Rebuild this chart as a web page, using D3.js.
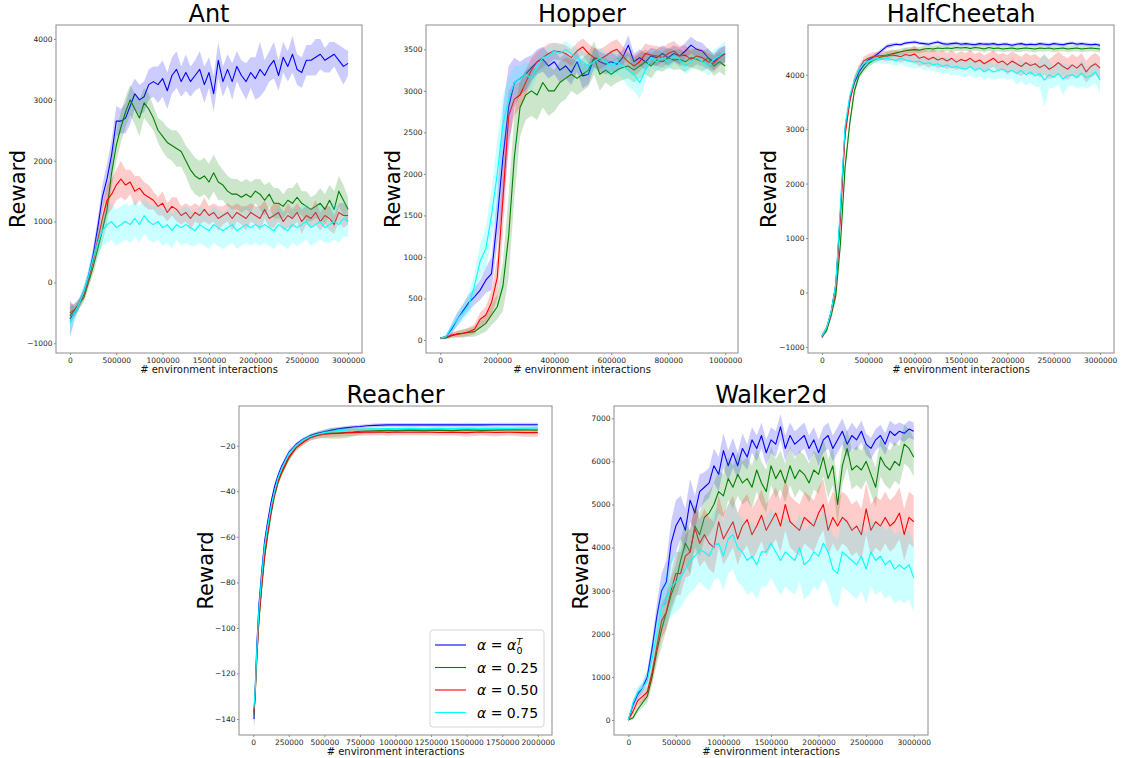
<!DOCTYPE html>
<html>
<head>
<meta charset="utf-8">
<script src="https://cdn.jsdelivr.net/npm/d3@7"></script>
<style>
  body { margin: 0; background: #fff; }
  text { font-family: "DejaVu Sans", sans-serif; }
</style>
</head>
<body>
<script>
const width = 1126, height = 758;
const colors = ["#0000ff", "#008000", "#ff0000", "#00ffff"];

// ---- Ant (x step 50000, 0..3000000)
const antStep = 50000;
const antBlue = [-600,-500,-350,-150,100,450,900,1400,1700,2100, 2650,2650,2700,2900,3100,3000,3050,3250,3300,3250, 3350,3150,3400,3500,3300,3450,3300,3400,3500,3250, 3450,3100,3650,3300,3500,3300,3550,3400,3300,3450, 3350,3500,3400,3550,3650,3400,3700,3550,3750,3500, 3450,3650,3650,3700,3750,3650,3700,3750,3650,3550, 3600];
const antGreen = [-550,-450,-350,-250,0,250,550,850,1200,1800, 2250,2550,2800,3000,2850,2700,2950,2850,2700,2500, 2400,2300,2250,2200,2150,2000,1850,1750,1700,1750, 1650,1800,1650,1600,1500,1450,1450,1400,1450,1400, 1500,1450,1350,1450,1300,1300,1250,1350,1300,1400, 1300,1250,1200,1250,1300,1200,1350,1200,1500,1350, 1200];
const antRed = [-500,-450,-350,-200,50,350,700,1050,1350,1450, 1600,1700,1600,1650,1500,1550,1450,1400,1350,1250, 1300,1150,1250,1200,1100,1150,1050,1150,1100,1200, 1100,1150,1050,1100,1150,1050,1150,1100,1050,1150, 1100,1050,1200,1050,1100,1150,1000,1100,1050,1150, 1000,1100,1050,1150,1000,1100,1050,950,1150,1100, 1100];
const antCyan = [-650,-500,-350,-150,100,400,650,850,950,1000, 900,950,1000,950,1050,950,1100,1000,950,1000, 900,950,850,950,900,950,900,850,950,900, 850,950,900,850,900,950,850,900,950,900, 950,900,950,900,850,950,900,850,950,900, 950,1000,900,950,1000,900,950,1000,950,1050, 1000];
const antBlueBand = [300,100,80,80,100,120,150,200,250,250, 250,200,250,300,250,250,250,250,250,300, 300,300,300,300,250,300,250,250,300,300, 250,300,300,250,250,300,250,250,300,250, 350,450,250,250,300,250,250,250,300,250, 250,250,250,300,250,200,250,200,250,300, 200];
const antGreenBand = [150,100,80,80,100,120,150,200,250,250, 250,250,250,250,250,300,250,250,200,200, 250,250,250,300,250,250,300,300,300,300, 300,300,300,250,250,250,250,250,250,250, 200,250,250,200,250,250,200,200,250,250, 200,250,200,200,250,250,250,300,250,250, 200];
const antRedBand = [150,100,80,80,100,120,150,200,250,250, 250,300,250,200,250,200,200,200,150,150, 200,150,150,200,150,150,200,150,150,200, 150,150,200,150,150,200,150,150,200,150, 150,200,150,150,200,150,150,200,150,150, 200,150,150,200,150,150,200,150,150,200, 150];
const antCyanBand = [250,150,100,100,120,150,200,250,300,300, 300,300,300,300,300,300,300,300,300,300, 300,300,300,250,300,300,300,250,300,300, 300,300,300,300,300,300,300,300,300,300, 300,300,300,300,300,300,300,300,300,300, 300,300,300,300,300,250,300,300,300,300, 250];

// ---- Hopper (x step 20000, 0..1000000)
const hopStep = 20000;
const hopBlue = [20,40,130,250,350,450,520,600,720,800, 1450,2200,2800,3100,3150,3200,3280,3350,3380,3300, 3350,3250,3300,3220,3350,3180,3200,3400,3350,3320, 3350,3320,3400,3550,3350,3400,3350,3420,3400,3450, 3400,3450,3420,3480,3550,3500,3480,3400,3350,3420, 3440];
const hopGreen = [20,25,50,70,80,90,100,150,200,300, 400,650,1250,2200,2800,2950,3000,2950,3100,3000, 3000,3100,3150,3200,3150,3200,3250,3400,3200,3250, 3200,3250,3280,3300,3250,3300,3350,3300,3370,3350, 3400,3370,3380,3350,3400,3380,3350,3400,3300,3350, 3300];
const hopRed = [20,30,60,70,80,100,130,250,300,450, 750,1700,2700,2900,2950,3100,3250,3350,3400,3450, 3480,3470,3450,3400,3480,3530,3450,3400,3380,3420, 3470,3500,3420,3350,3300,3350,3450,3430,3420,3400, 3450,3480,3420,3430,3380,3420,3400,3350,3330,3400, 3450];
const hopCyan = [20,40,150,250,330,420,650,950,1100,1500, 2000,2600,2900,3100,3150,3200,3150,3300,3400,3420, 3480,3450,3500,3450,3400,3350,3300,3350,3400,3350, 3300,3350,3300,3250,3200,3100,3250,3400,3350,3400, 3350,3420,3380,3300,3350,3400,3350,3300,3380,3420, 3480];
const hopBlueBand = [10,20,60,80,80,100,100,120,150,200, 300,600,500,300,200,200,150,150,150,150, 150,150,150,150,120,150,120,120,120,120, 120,100,100,120,100,100,100,100,100,100, 100,100,100,100,100,100,100,100,100,100, 100];
const hopGreenBand = [10,15,30,40,50,50,60,80,100,120, 150,300,500,500,350,300,300,300,300,300, 250,250,250,200,200,200,200,200,200,150, 150,150,150,150,150,150,150,150,120,120, 120,120,120,120,120,120,120,120,120,120, 120];
const hopRedBand = [10,15,30,40,40,50,60,80,100,150, 250,400,300,200,150,150,150,120,120,120, 100,100,100,100,100,100,120,120,120,120, 120,120,120,120,120,120,120,120,120,120, 120,120,120,120,100,100,100,100,100,100, 100];
const hopCyanBand = [10,20,60,80,100,120,150,200,250,300, 400,350,250,200,150,150,150,120,120,120, 100,100,100,100,120,120,120,120,120,120, 150,150,150,200,200,200,150,120,120,120, 100,100,100,100,100,100,100,120,120,120, 120];

// ---- HalfCheetah (x step 50000, 0..3000000)
const hcStep = 50000;
const hcBlue = [-820,-680,-350,150,1500,3000,3550,3850,4050,4170, 4270,4320,4380,4450,4520,4540,4560,4550,4580,4590, 4600,4580,4570,4560,4580,4600,4570,4560,4570,4580, 4560,4570,4560,4550,4570,4560,4560,4570,4550,4560, 4560,4540,4560,4570,4550,4560,4550,4570,4560,4550, 4570,4560,4550,4570,4580,4560,4570,4560,4550,4560, 4540];
const hcGreen = [-800,-700,-420,-50,900,2300,3100,3700,3980,4100, 4200,4260,4300,4330,4360,4380,4400,4420,4440,4450, 4460,4450,4470,4480,4470,4490,4480,4490,4480,4500, 4490,4500,4480,4500,4490,4470,4500,4480,4490,4470, 4480,4490,4470,4480,4490,4480,4470,4490,4480,4490, 4470,4480,4490,4470,4480,4490,4470,4480,4490,4480, 4470];
const hcRed = [-800,-650,-380,100,1400,2900,3500,3900,4100,4250, 4300,4330,4340,4350,4340,4360,4350,4330,4370,4350, 4380,4300,4330,4280,4320,4270,4300,4250,4300,4230, 4280,4250,4300,4230,4270,4200,4250,4300,4220,4250, 4180,4250,4200,4150,4220,4170,4200,4130,4180,4100, 4150,4220,4150,4100,4180,4120,4200,4050,4150,4200, 4120];
const hcCyan = [-800,-650,-350,150,1600,3050,3600,3900,4100,4200, 4250,4270,4300,4280,4300,4280,4260,4300,4270,4250, 4230,4250,4200,4220,4180,4200,4150,4180,4130,4150, 4120,4100,4150,4080,4120,4050,4100,4050,4080,4100, 4050,4080,4020,4080,4000,4050,3980,4020,3900,4000, 3950,4020,3920,3980,4000,3950,4030,3950,3980,4050, 3900];
const hcBlueBand = [40,40,60,80,100,100,80,60,50,40, 40,40,40,40,40,40,30,30,30,30, 30,30,30,30,30,30,30,30,30,30, 30,30,30,30,30,30,30,30,30,30, 30,30,30,30,30,30,30,30,30,30, 30,30,30,30,30,30,30,30,30,30, 30];
const hcGreenBand = [40,40,60,100,150,150,100,80,60,60, 60,60,60,60,60,60,60,60,60,60, 60,60,60,60,60,60,60,60,60,60, 60,60,60,60,60,60,60,60,60,60, 60,60,60,60,60,60,60,60,60,60, 60,60,60,60,60,60,60,60,60,60, 60];
const hcRedBand = [40,40,60,100,150,120,100,80,80,80, 80,80,80,80,100,100,100,100,120,120, 150,150,150,150,150,150,150,150,150,150, 150,150,150,150,150,150,150,150,150,150, 180,180,180,180,180,180,180,180,180,180, 200,200,200,200,200,200,200,200,200,200, 200];
const hcCyanBand = [40,40,60,100,150,120,100,80,80,80, 80,80,80,80,100,100,100,100,120,120, 120,120,120,120,120,150,150,150,150,150, 150,150,150,150,150,150,150,150,150,150, 150,150,200,200,200,200,200,250,500,250, 200,200,300,200,200,200,250,200,200,200, 250];

// ---- Reacher (explicit x)
const reX = [5000,15000,25000,40000,60000,80000,100000,125000,150000,175000, 200000,250000,300000,350000,400000,450000,500000,550000,600000,650000, 700000,750000,800000,850000,900000,950000,1000000,1100000,1200000,1300000, 1400000,1500000,1600000,1700000,1800000,1900000,2000000];
const reBlue = [-140,-125,-108,-90,-75,-62,-54,-45,-38,-33, -29,-23,-19.5,-17.2,-15.6,-14.6,-13.9,-13.2,-12.6,-12.2, -11.8,-11.6,-11.3,-11.1,-11.0,-10.9,-10.9,-10.9,-10.9,-10.9, -10.9,-10.8,-10.9,-10.8,-10.8,-10.8,-10.8];
const reGreen = [-138,-128,-114,-97,-82,-69,-60,-50,-42,-36, -32,-25.5,-21,-18.5,-16.5,-15.5,-14.8,-14.5,-14.5,-14.2, -14,-13.7,-13.6,-13.5,-13.4,-13.3,-13.4,-13.2,-13.3,-13.2, -13.4,-13.1,-13.3,-13.2,-13.1,-13.0,-13.2];
const reRed = [-137,-127,-113,-96,-81,-68,-59,-49,-41,-35.5, -31.5,-25,-21,-18.5,-16.5,-15.5,-15,-14.8,-14.6,-14.4, -14.3,-14.2,-14.0,-14.1,-14.0,-14.2,-14.0,-14.1,-14.0,-14.2, -14.1,-14.3,-14.0,-14.2,-14.1,-14.3,-14.3];
const reCyan = [-135,-126,-110,-92,-77,-64,-56,-47,-40,-34, -30,-23.5,-20,-17.5,-16,-15,-14.3,-13.8,-13.4,-13.1, -12.9,-12.8,-12.7,-12.6,-12.6,-12.5,-12.5,-12.4,-12.5,-12.4, -12.4,-12.3,-12.4,-12.3,-12.4,-12.3,-12.2];
const reBlueBand = [6,5,4,3,2.5,2,2,1.5,1.5,1.2, 1,1,0.8,0.8,0.8,0.8,0.8,0.8,0.8,0.8, 0.8,0.8,0.8,0.8,0.8,0.8,0.8,0.8,0.8,0.8, 0.8,0.8,0.8,0.8,0.8,0.8,0.8];
const reGreenBand = [6,5,4,3,2.5,2.5,2,2,1.5,1.5, 1.5,1.5,1.2,1.2,1.2,1.5,2,2.5,2.5,2.5, 2,1.5,1.2,1.2,1,1,1,1,1,1, 1,1,1,1,1,1,1];
const reRedBand = [6,5,4,3,2.5,2.5,2,2,1.5,1.5, 1.5,1.5,1.2,1.2,1.2,1.2,1.5,1.5,1.5,1.5, 1.5,1.5,1.5,1.5,1.5,1.5,1.5,1.5,1.5,1.5, 1.5,1.8,1.5,1.8,1.5,1.8,1.8];
const reCyanBand = [6,5,4,3,2.5,2,2,1.5,1.5,1.2, 1,1,0.8,0.8,0.8,0.8,0.8,0.8,0.8,0.8, 0.8,0.8,0.8,0.8,0.8,0.8,0.8,0.8,0.8,0.8, 0.8,0.8,0.8,0.8,0.8,0.8,0.8];

// ---- Walker2d (x step 50000, 0..3000000)
const wkStep = 50000;
const wkBlue = [0,350,600,750,1000,1650,2400,3000,3200,4100, 4500,4700,4400,5100,4800,5300,5400,5500,5900,5700, 6250,5900,6200,5900,6300,6100,6500,6300,6600,6200, 6500,6400,6800,6300,6600,6400,6500,6600,6300,6500, 6200,6500,6600,6300,6500,6700,6400,6600,6500,6700, 6400,6300,6500,6600,6400,6700,6600,6700,6650,6750, 6700];
const wkGreen = [0,50,250,400,550,1000,1600,2100,2500,2900, 3200,3700,4100,3900,4500,4300,4700,4800,5000,5300, 5200,5600,5400,5700,5500,5600,5400,5800,5500,5300, 5900,5600,5800,5500,5900,5600,5800,5700,5500,5800, 5700,6100,5600,5900,5000,5900,6300,5800,5900,5800, 6000,5700,5400,6100,5900,5800,6000,5900,6400,6300, 6100];
const wkRed = [0,200,450,550,650,1100,1700,2300,2500,3000, 3400,3400,3800,3900,4450,4100,4300,4100,4000,4600, 4200,4400,4600,4200,4500,4650,4300,4500,4750,4400, 4600,4800,4500,5000,4600,4500,4400,4700,4600,4500, 4800,5000,4400,4700,4500,4700,4600,4400,4500,4300, 4900,4400,4600,4500,4700,4500,4600,4800,4300,4700, 4600];
const wkCyan = [0,400,650,750,900,1400,2000,2600,2800,3100, 3200,3300,3500,3700,3800,3950,3900,3800,4050,4100, 3800,4200,4300,4000,3900,3700,3800,3600,3900,3900, 4100,3900,3700,3900,3800,3700,4000,3600,3700,3900, 3800,4100,3900,3500,3400,3900,3800,3700,3600,3800, 3500,3900,3700,3800,3600,3700,3500,3600,3500,3600, 3300];
const wkBlueBand = [20,80,100,100,150,200,300,400,500,500, 600,500,500,500,400,400,350,350,400,400, 400,350,350,300,350,300,300,300,300,300, 300,300,300,300,300,300,300,300,300,300, 300,300,300,300,300,300,300,300,250,250, 250,250,250,250,250,250,250,200,200,200, 200];
const wkGreenBand = [20,50,80,100,150,200,300,400,400,400, 400,500,500,500,500,500,500,500,500,500, 500,500,500,500,500,500,500,500,500,500, 450,450,450,450,450,450,450,450,450,450, 450,450,450,450,450,450,450,450,450,450, 450,450,450,450,450,450,450,450,450,450, 450];
const wkRedBand = [20,80,100,150,150,200,300,400,400,400, 500,500,500,550,550,550,600,600,600,600, 600,600,600,600,600,600,600,600,600,600, 600,600,600,600,600,600,600,600,600,600, 600,600,600,600,600,600,600,600,600,600, 600,600,600,600,600,600,600,600,600,600, 600];
const wkCyanBand = [20,100,120,150,200,300,400,500,600,700, 700,700,700,750,750,750,800,800,800,800, 800,800,800,800,800,800,800,800,800,800, 800,800,800,800,800,800,800,800,800,800, 800,800,800,800,800,800,800,800,800,800, 800,800,800,800,800,800,800,800,800,800, 800];

const legendLabels = ["0.25", "0.50", "0.75"];

const stepX = (arr, step) => arr.map((v, i) => i * step);

const panels = [
  { title: "Ant", xs: stepX(antBlue, antStep), means: [antBlue, antGreen, antRed, antCyan],
    bands: [antBlueBand, antGreenBand, antRedBand, antCyanBand],
    box: [56, 25, 362, 353], xDom: [-150000, 3150000], yDom: [-1160, 4230],
    xTicks: d3.range(0, 3000001, 500000), yTicks: d3.range(-1000, 4001, 1000), ylabX: 25 },
  { title: "Hopper", xs: stepX(hopBlue, hopStep), means: [hopBlue, hopGreen, hopRed, hopCyan],
    bands: [hopBlueBand, hopGreenBand, hopRedBand, hopCyanBand],
    box: [426, 25, 738, 353], xDom: [-50000, 1045000], yDom: [-157, 3793],
    xTicks: d3.range(0, 1000001, 200000), yTicks: d3.range(0, 3501, 500), ylabX: 400 },
  { title: "HalfCheetah", xs: stepX(hcBlue, hcStep), means: [hcBlue, hcGreen, hcRed, hcCyan],
    bands: [hcBlueBand, hcGreenBand, hcRedBand, hcCyanBand],
    box: [808, 25, 1114, 353], xDom: [-150000, 3150000], yDom: [-1110, 4912],
    xTicks: d3.range(0, 3000001, 500000), yTicks: d3.range(-1000, 4001, 1000), ylabX: 776 },
  { title: "Reacher", xs: reX, means: [reBlue, reGreen, reRed, reCyan],
    bands: [reBlueBand, reGreenBand, reRedBand, reCyanBand],
    box: [239, 406, 552, 735], xDom: [-100000, 2100000], yDom: [-147, -2.6],
    xTicks: d3.range(0, 2000001, 250000), yTicks: d3.range(-140, -19, 20), ylabX: 212.7, legend: true },
  { title: "Walker2d", xs: stepX(wkBlue, wkStep), means: [wkBlue, wkGreen, wkRed, wkCyan],
    bands: [wkBlueBand, wkGreenBand, wkRedBand, wkCyanBand],
    box: [614, 406, 928, 735], xDom: [-150000, 3150000], yDom: [-348, 7285],
    xTicks: d3.range(0, 3000001, 500000), yTicks: d3.range(0, 7001, 1000), ylabX: 588.3 }
];

const svg = d3.select("body").append("svg").attr("width", width).attr("height", height);
const fmt = d3.format("d");

panels.forEach((p, pi) => {
  const [x0, y0, x1, y1] = p.box;
  const x = d3.scaleLinear().domain(p.xDom).range([x0, x1]);
  const y = d3.scaleLinear().domain(p.yDom).range([y1, y0]);
  const g = svg.append("g");

  const clipId = "clip" + pi;
  svg.append("clipPath").attr("id", clipId)
    .append("rect").attr("x", x0).attr("y", y0).attr("width", x1 - x0).attr("height", y1 - y0);

  const plot = g.append("g").attr("clip-path", `url(#${clipId})`);

  p.means.forEach((vals, k) => {
    const pts = p.xs.map((xv, i) => ({ x: xv, m: vals[i], h: p.bands[k][i] }));
    const area = d3.area().x(d => x(d.x)).y0(d => y(d.m - d.h)).y1(d => y(d.m + d.h));
    const line = d3.line().x(d => x(d.x)).y(d => y(d.m));
    plot.append("path").attr("d", area(pts))
      .style("fill", colors[k]).style("fill-opacity", 0.2).style("stroke", "none");
    plot.append("path").attr("d", line(pts))
      .style("fill", "none").style("stroke", colors[k]).style("stroke-width", 1.1)
      .style("stroke-linejoin", "round");
  });

  // frame
  g.append("rect").attr("x", x0).attr("y", y0).attr("width", x1 - x0).attr("height", y1 - y0)
    .style("fill", "none").style("stroke", "#8c8c8c").style("stroke-width", 1);

  const xAxis = g.append("g").attr("transform", `translate(0,${y1})`)
    .call(d3.axisBottom(x).tickValues(p.xTicks).tickSize(2).tickPadding(2.5).tickFormat(fmt));
  const yAxis = g.append("g").attr("transform", `translate(${x0},0)`)
    .call(d3.axisLeft(y).tickValues(p.yTicks).tickSize(2).tickPadding(1.5).tickFormat(fmt));
  [xAxis, yAxis].forEach(a => {
    a.select(".domain").remove();
    a.selectAll(".tick line").style("stroke", "#8c8c8c");
    a.selectAll("text").style("font-family", "DejaVu Sans").style("font-size", "7.5px").style("fill", "#262626");
  });

  // title
  g.append("text").attr("x", (x0 + x1) / 2).attr("y", y0 - 3)
    .attr("text-anchor", "middle").style("font-size", "24px").style("fill", "#000")
    .text(p.title);

  // x label
  g.append("text").attr("x", (x0 + x1) / 2).attr("y", y1 + 19.5)
    .attr("text-anchor", "middle").style("font-size", "10px").style("fill", "#111")
    .text("# environment interactions");

  // y label
  g.append("text").attr("transform", `translate(${p.ylabX},${(y0 + y1) / 2}) rotate(-90)`)
    .attr("text-anchor", "middle").style("font-size", "21px").style("fill", "#000")
    .text("Reward");

  if (p.legend) {
    const lg = g.append("g");
    lg.append("rect").attr("x", 430).attr("y", 630).attr("width", 114).attr("height", 97)
      .attr("rx", 3).style("fill", "#fff").style("fill-opacity", 0.8)
      .style("stroke", "#d6d6d6").style("stroke-width", 1);
    const rowY = [645, 667.5, 690, 712.5];
    rowY.forEach((ry, k) => {
      lg.append("line").attr("x1", 435).attr("x2", 466).attr("y1", ry).attr("y2", ry)
        .style("stroke", colors[k]).style("stroke-width", 1.1);
      const t = lg.append("text").attr("x", 477).attr("y", ry + 5).style("font-size", "14px").style("fill", "#000");
      t.append("tspan").style("font-style", "italic").text("α");
      if (k === 0) {
        t.append("tspan").text(" = ");
        t.append("tspan").style("font-style", "italic").text("α");
        const len = t.node().getComputedTextLength();
        lg.append("text").attr("x", 477 + len + 0.5).attr("y", ry + 8.5)
          .style("font-size", "9.5px").text("0");
        lg.append("text").attr("x", 477 + len + 0.5).attr("y", ry - 0.5)
          .style("font-size", "9.5px").style("font-style", "italic").text("T");
      } else {
        t.append("tspan").text(" = " + legendLabels[k - 1]);
      }
    });
  }
});
</script>
</body>
</html>
